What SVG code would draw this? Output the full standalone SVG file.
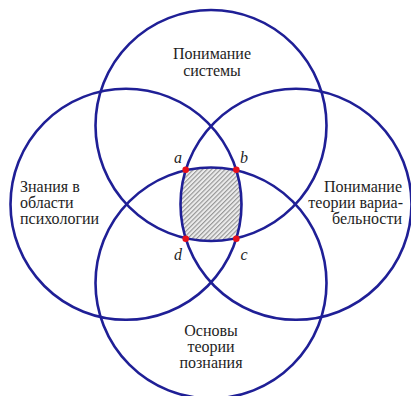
<svg xmlns="http://www.w3.org/2000/svg" width="411" height="396" viewBox="0 0 411 396">
  <defs>
    <pattern id="hatch" width="3.2" height="3.2" patternUnits="userSpaceOnUse" patternTransform="rotate(45)">
      <rect width="3.2" height="3.2" fill="#ececec"/>
      <line x1="0.6" y1="0" x2="0.6" y2="3.2" stroke="#8a8a8a" stroke-width="1"/>
    </pattern>
    <style>
      .ring { fill: none; stroke: #1f1f96; stroke-width: 2.6; }
      .lbl { font-family: 'Liberation Serif', 'Times New Roman', serif; font-size: 16px; fill: #1e1e1e; }
      .pt { font-family: 'Liberation Serif', 'Times New Roman', serif; font-size: 16px; font-style: italic; fill: #1e1e1e; text-anchor: middle; }
      .dot { fill: #e8101a; }
    </style>
  </defs>
  <rect width="411" height="396" fill="#ffffff"/>

  <g id="core">
    <path d="M185.7,169.8 A115.5,115.5 0 0 1 236.3,169.8 A115.5,115.5 0 0 1 236.3,238.8 A115.5,115.5 0 0 1 185.7,238.8 A115.5,115.5 0 0 1 185.7,169.8 Z" fill="url(#hatch)" stroke="none"/>
  </g>

  <g id="system">
    <circle class="ring" cx="211" cy="125.5" r="115.5"/>
    <text class="lbl" x="212" y="59" text-anchor="middle">Понимание</text>
    <text class="lbl" x="212" y="75.5" text-anchor="middle">системы</text>
  </g>

  <g id="psychology">
    <circle class="ring" cx="126" cy="204.3" r="115.5"/>
    <text class="lbl" x="20" y="191.5">Знания в</text>
    <text class="lbl" x="20" y="207.5">области</text>
    <text class="lbl" x="20" y="223.5">психологии</text>
  </g>

  <g id="variability">
    <circle class="ring" cx="296" cy="204.3" r="115.5"/>
    <text class="lbl" x="402" y="191.5" text-anchor="end">Понимание</text>
    <text class="lbl" x="403" y="207.5" text-anchor="end">теории вариа-</text>
    <text class="lbl" x="402" y="223.5" text-anchor="end">бельности</text>
  </g>

  <g id="knowledge">
    <circle class="ring" cx="211" cy="283" r="115.5"/>
    <text class="lbl" x="211" y="335.5" text-anchor="middle">Основы</text>
    <text class="lbl" x="211" y="351.5" text-anchor="middle">теории</text>
    <text class="lbl" x="211" y="367.5" text-anchor="middle">познания</text>
  </g>

  <g id="points">
    <circle class="dot" cx="185.7" cy="169.8" r="3.3"/>
    <circle class="dot" cx="236.3" cy="169.8" r="3.3"/>
    <circle class="dot" cx="236.3" cy="238.8" r="3.3"/>
    <circle class="dot" cx="185.7" cy="238.8" r="3.3"/>
    <text class="pt" x="178" y="163">a</text>
    <text class="pt" x="244" y="163">b</text>
    <text class="pt" x="244" y="260">c</text>
    <text class="pt" x="178" y="260">d</text>
  </g>
</svg>
